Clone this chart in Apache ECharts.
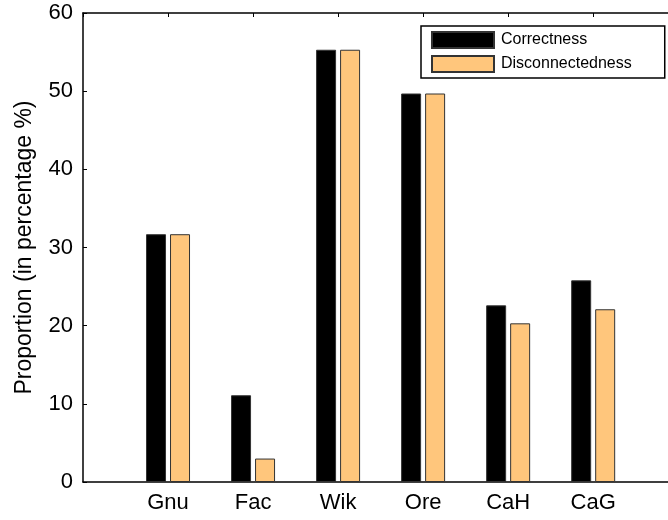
<!DOCTYPE html>
<html>
<head>
<meta charset="utf-8">
<script src="https://cdn.jsdelivr.net/npm/echarts@6/dist/echarts.min.js"></script>
<style>
  html, body { margin: 0; padding: 0; background: #fff; }
  #chart { width: 668px; height: 520px; }
</style>
</head>
<body>
<div id="chart"></div>
<script>
// Datasets along the x axis (positions 1..6)
const categories = ['Gnu', 'Fac', 'Wik', 'Ore', 'CaH', 'CaG'];
const correctness = [31.7, 11.1, 55.3, 49.7, 22.6, 25.8];
const disconnectedness = [31.7, 3.0, 55.3, 49.7, 20.3, 22.1];
const yTicks = [0, 10, 20, 30, 40, 50, 60];

const FONT = 'Liberation Sans, Arial, sans-serif';
const X_MAX = 6.88; // the frame runs past the right edge of the canvas
const toPoints = vals => vals.map((v, i) => [i + 1, v]);
const labelFor = v => (Number.isInteger(v) && categories[v - 1]) || '';

const chart = echarts.init(document.getElementById('chart'), null, { renderer: 'canvas' });

const barStyle = (color, border) => ({
  color: color,
  borderColor: border,
  borderWidth: 1
});

chart.setOption({
  animation: false,
  backgroundColor: '#fff',
  grid: { left: 83, top: 13, right: 0, bottom: 38, show: false },
  legend: {
    orient: 'vertical',
    left: 421, top: 26,
    icon: 'rect',
    itemWidth: 62, itemHeight: 16, itemGap: 6,
    padding: [5, 33, 5, 10],
    borderColor: '#000', borderWidth: 1.5,
    backgroundColor: '#fff',
    textStyle: { fontFamily: FONT, fontSize: 16, color: '#000', padding: [0, 0, 0, 2] },
    data: ['Correctness', 'Disconnectedness']
  },
  xAxis: [{
    type: 'value',
    min: 0, max: X_MAX, interval: 1,
    position: 'bottom',
    splitLine: { show: false },
    axisLine: { show: true, lineStyle: { color: '#000', width: 1.5 } },
    axisTick: { show: false },
    axisLabel: {
      fontFamily: FONT, fontSize: 22, color: '#000', margin: 10,
      showMaxLabel: false,
      formatter: labelFor
    }
  }, {
    type: 'value',
    min: 0, max: X_MAX, interval: 1,
    position: 'top',
    splitLine: { show: false },
    axisLine: { show: true, lineStyle: { color: '#000', width: 1.5 } },
    axisTick: { show: true, inside: true, length: 4, lineStyle: { color: '#000' } },
    axisLabel: { show: false }
  }],
  yAxis: {
    type: 'value',
    min: yTicks[0], max: yTicks[yTicks.length - 1], interval: 10,
    name: 'Proportion (in percentage %)',
    nameLocation: 'middle',
    nameGap: 47,
    nameTextStyle: { fontFamily: FONT, fontSize: 23, color: '#000' },
    splitLine: { show: false },
    axisLine: { show: true, lineStyle: { color: '#000', width: 1.5 } },
    axisTick: { show: true, inside: true, length: 4, lineStyle: { color: '#000' } },
    axisLabel: { fontFamily: FONT, fontSize: 22, color: '#000', margin: 10 }
  },
  series: [{
    name: 'Correctness',
    type: 'bar',
    xAxisIndex: 0,
    barWidth: 20,
    barGap: '20%',
    itemStyle: barStyle('#000', '#333'),
    data: toPoints(correctness)
  }, {
    name: 'Disconnectedness',
    type: 'bar',
    xAxisIndex: 0,
    barWidth: 20,
    barGap: '20%',
    itemStyle: barStyle('#FFC67C', '#333'),
    data: toPoints(disconnectedness)
  }]
});
</script>
</body>
</html>
